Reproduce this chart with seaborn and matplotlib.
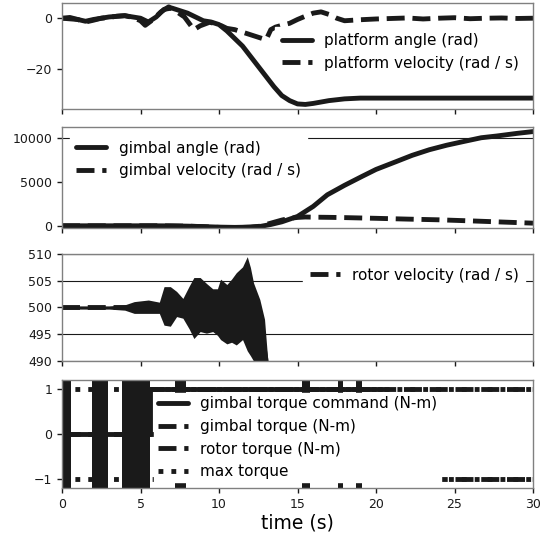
import numpy as np
import pandas as pd
import matplotlib
matplotlib.use('Agg')
import matplotlib.pyplot as plt
import seaborn as sns

# platform (panel 1)
plat_t = [0, 1, 1.5, 2, 3, 4, 5, 5.5, 6, 6.5, 7, 7.5, 8, 8.5, 9, 9.5, 10, 10.5, 11, 11.5,
          12, 12.5, 13, 13.5, 14, 14.5, 15, 15.5, 16, 17, 18, 19, 20, 25, 30]
plat_angle = [0, -0.5, -1.2, -0.5, 0.5, 1, 0, -1.5, 0.5, 3.5, 4, 3, 2, 0.5, -1, -1.5, -2.5, -5, -8, -11,
              -15, -19, -23, -27, -30.5, -32.5, -33.8, -34, -33.6, -32.5, -31.8, -31.5, -31.5, -31.5, -31.5]
platv_t = [0, 0.5, 1, 1.5, 2, 2.5, 3, 3.5, 4, 4.5, 5, 5.3, 5.8, 6.3, 6.8, 7.2, 7.8, 8.4, 8.8, 9.4,
           10, 10.5, 11, 11.5, 12, 12.5, 13, 13.3, 13.6, 14, 14.5, 15, 15.5, 16, 16.5, 17, 17.5, 18,
           18.5, 19, 20, 21, 22, 23, 24, 25, 26, 27, 28, 29, 30]
plat_vel = [0, 0.3, -0.5, -1.5, -0.8, 0, 0.3, 0.8, 1, 0.3, -1, -2.8, -0.5, 2.5, 4.5, 3, 0.5, -4.5, -3, -1.6,
            -2.5, -4, -4.5, -5.5, -6.5, -7.5, -8.5, -4.5, -3.5, -2.8, -2, -0.5, 0.8, 2, 2.5, 1.5, 0, -1,
            -0.8, -0.6, -0.3, -0.1, 0.1, -0.3, 0, 0.2, -0.2, 0, 0.1, -0.1, 0]

# gimbal (panel 2)
gim_t = [0, 2, 4, 6, 7, 8, 9, 10, 11, 12, 12.6, 13.3, 14, 15, 16, 16.9, 18, 19.1, 20, 21.3,
         22.3, 23.4, 24.5, 25.6, 26.7, 27.7, 29, 30]
gim_angle = [0, 0, 0, 0, -10, -40, -90, -150, -180, -150, -80, 150, 450, 1060, 2200, 3520, 4600, 5600, 6400, 7300,
             8000, 8640, 9150, 9580, 10000, 10200, 10500, 10700]
gimv_t = [0, 6, 8, 9, 10, 11, 12, 12.6, 13.3, 14, 14.5, 15, 15.5, 16, 17, 18, 20, 22, 24, 26, 28, 30]
gim_vel = [0, 0, -40, -100, -180, -220, -150, -50, 300, 650, 850, 950, 1000, 980, 960, 930, 850, 760, 680,
           560, 430, 300]

# rotor velocity (panel 3): centre and oscillation envelope
rot_t = [0, 3, 4, 4.6, 5.5, 6.2, 6.5, 6.9, 7.3, 7.7, 8.1, 8.4, 8.8, 9.2, 9.6, 9.9, 10.1, 10.5, 10.8,
         11.1, 11.5, 11.8, 12.0, 12.2, 12.6, 12.9, 13.1]
rot_hi = [500.3, 500.3, 500.5, 501.1, 501.4, 501.0, 503.9, 503.9, 503.0, 501.7, 504.0, 505.6, 505.6, 504.5,
          503.5, 503.5, 505.3, 504.3, 505.3, 506.5, 507.6, 509.5, 507.5, 504.6, 501.5, 497.8, 490.4]
rot_lo = [499.7, 499.7, 499.5, 498.9, 498.9, 498.9, 496.7, 496.5, 498.3, 498.0, 496.0, 494.2, 495.5, 495.2,
          495.5, 494.8, 494.0, 493.2, 493.5, 493.0, 494.0, 491.9, 491.0, 490.0, 488.0, 486.0, 485.0]
rot_mid = [500, 500, 500, 500, 500, 500, 500, 500, 500, 500, 500, 500, 500, 500,
           500, 500, 500, 500, 500, 500, 500, 500, 499, 497, 495, 492, 488]

# torques (panel 4)
cmd_t = [0, 0.6, 1.9, 2.95, 3.85, 5.6, 7.2, 7.9, 15.3, 15.8, 17.6, 17.9, 18.7, 19.1, 20.3]
cmd_mid = [0, 0, 0, 0, 0, 1, 1, 1, 1, 1, 1, 1, 1, 1, 1]
cmd_hi = [1.3, 0, 1.3, 0, 1.3, 1, 1.3, 1, 1.3, 1, 1.3, 1, 1.3, 1, 1]
cmd_lo = [-1.3, 0, -1.3, 0, -1.3, 1, -1.3, 1, -1.3, 1, -1.3, 1, -1.3, 1, 1]
gtq_t = [0, 4.7, 30]
gtq_v = [0, 1, 1]
rtq_t = [0, 23.5, 30]
rtq_v = [0, -1, -1]
t_range = [0, 30]
max_torque = 1.0

sns.set_theme(style='ticks')
plt.rcParams['font.family'] = ['DejaVu Sans']
plt.rcParams['text.color'] = 'black'
plt.rcParams['axes.labelcolor'] = 'black'
plt.rcParams['axes.edgecolor'] = '0.5'
plt.rcParams['axes.linewidth'] = 1.0
plt.rcParams['xtick.color'] = 'k'
plt.rcParams['ytick.color'] = 'k'
plt.rcParams['xtick.labelsize'] = 9
plt.rcParams['ytick.labelsize'] = 9

W, H = 542, 533
fig = plt.figure(figsize=(W / 100, H / 100), dpi=100)
boxes = [(3, 109), (127, 228), (254, 361), (380, 488)]
axes = []
for i, (top, bot) in enumerate(boxes):
    rect = [62 / W, 1 - bot / H, 471 / W, (bot - top) / H]
    ax = fig.add_axes(rect, sharex=axes[0] if axes else None)
    axes.append(ax)
ax1, ax2, ax3, ax4 = axes

leg_kw = dict(fontsize=11, frameon=True, framealpha=1, facecolor='white', edgecolor='white', fancybox=False)
LW = 3.5

# panel 1
sns.lineplot(x=plat_t, y=plat_angle, ax=ax1, color='k', lw=LW, label='platform angle (rad)')
sns.lineplot(x=platv_t, y=plat_vel, ax=ax1, color='k', lw=LW, ls='--', label='platform velocity (rad / s)')
ax1.set_ylim(-35.8, 6)
ax1.set_yticks([-20, 0])
ax1.legend(loc='center right', bbox_to_anchor=(1, 0.54), **leg_kw)

# panel 2
sns.lineplot(x=gim_t, y=gim_angle, ax=ax2, color='k', lw=LW, label='gimbal angle (rad)')
sns.lineplot(x=gimv_t, y=gim_vel, ax=ax2, color='k', lw=LW, ls='--', label='gimbal velocity (rad / s)')
ax2.set_ylim(-250, 11220)
ax2.set_yticks([0, 5000, 10000])
ax2.grid(axis='y', color='k', lw=0.8)
for gl in ax2.get_ygridlines()[:2]:
    gl.set_visible(False)
ax2.legend(loc='upper left', **leg_kw)

# panel 3
ax3.fill_between(rot_t, rot_lo, rot_hi, color='k', lw=0)
sns.lineplot(x=rot_t, y=rot_mid, ax=ax3, color='k', lw=LW, ls='--', label='rotor velocity (rad / s)')
ax3.set_ylim(490, 510)
ax3.set_yticks([490, 495, 500, 505, 510])
ax3.grid(axis='y', color='k', lw=0.8)
ax3.get_ygridlines()[2].set_visible(False)
ax3.legend(loc='upper right', **leg_kw)

# panel 4
ax4.fill_between(cmd_t, cmd_lo, cmd_hi, step='post', color='k', lw=0)
sns.lineplot(x=cmd_t, y=cmd_mid, ax=ax4, color='k', lw=LW, drawstyle='steps-post',
             label='gimbal torque command (N-m)')
sns.lineplot(x=gtq_t, y=gtq_v, ax=ax4, color='k', lw=LW, ls='--', drawstyle='steps-post',
             label='gimbal torque (N-m)')
sns.lineplot(x=rtq_t, y=rtq_v, ax=ax4, color='k', lw=LW, ls='--', drawstyle='steps-post',
             label='rotor torque (N-m)')
sns.lineplot(x=t_range, y=[max_torque, max_torque], ax=ax4, color='k', lw=LW, ls=':', label='max torque')
sns.lineplot(x=t_range, y=[-max_torque, -max_torque], ax=ax4, color='k', lw=LW, ls=':')
ax4.set_ylim(-1.19, 1.2)
ax4.set_yticks([-1, 0, 1])
ax4.legend(loc='center', bbox_to_anchor=(0.5, 0.465), borderpad=0.2, **leg_kw)

for ax in axes:
    ax.set_xlim(0, 30)
    ax.set_xticks([0, 5, 10, 15, 20, 25, 30])
    ax.tick_params(direction='out', length=3.5, width=1)
for ax in axes[:3]:
    ax.tick_params(labelbottom=False)
ax4.set_xlabel('time (s)', fontsize=13.5, labelpad=2)

fig.savefig('out.png', dpi=100)
